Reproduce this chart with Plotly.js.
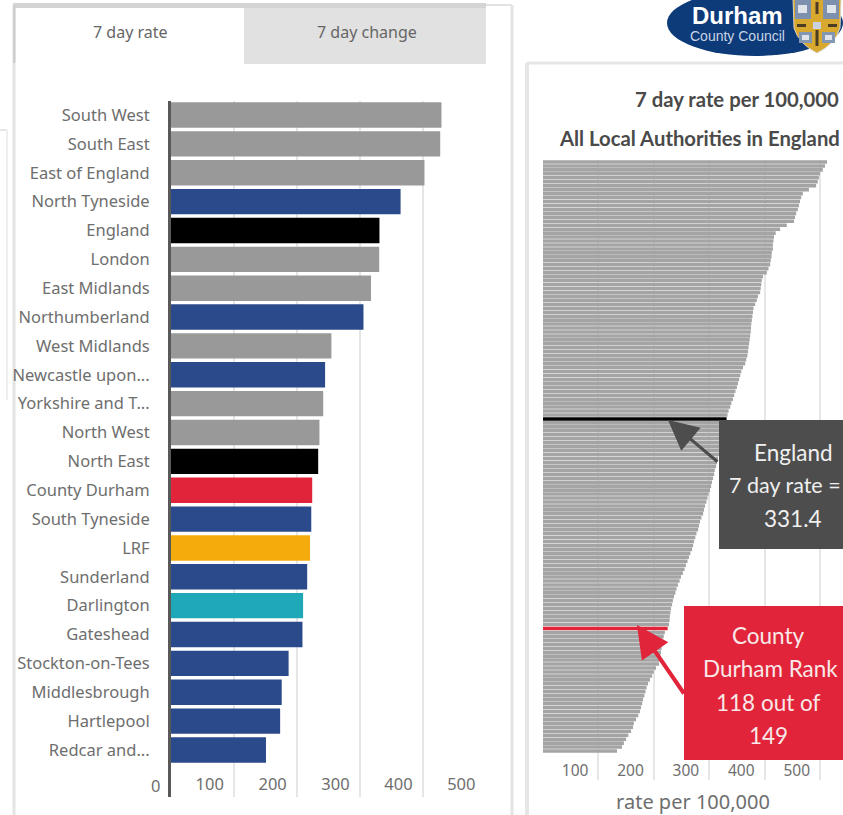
<!DOCTYPE html>
<html><head><meta charset="utf-8">
<script src="https://cdn.plot.ly/plotly-3.0.1.min.js"></script>
<style>html,body{margin:0;padding:0;background:#fff;overflow:hidden}</style>
</head><body><div id="chart" style="width:843px;height:815px"></div>
<script>
const areaNames = ["South West","South East","East of England","North Tyneside","England","London","East Midlands","Northumberland","West Midlands","Newcastle upon...","Yorkshire and T...","North West","North East","County Durham","South Tyneside","LRF","Sunderland","Darlington","Gateshead","Stockton-on-Tees","Middlesbrough","Hartlepool","Redcar and..."];
const areaRates = [430,428,403,365,331.4,331,318,306,255,245,242,236,234,224.5,223,221,216.5,210,209,187,176,173.5,151];
const areaColours = ["#999999","#999999","#999999","#2b4a8b","#000000","#999999","#999999","#2b4a8b","#999999","#2b4a8b","#999999","#999999","#000000","#e1243a","#2b4a8b","#f3ac0b","#2b4a8b","#1fa8b8","#2b4a8b","#2b4a8b","#2b4a8b","#2b4a8b","#2b4a8b"];
const authorityRates = [512.6,509,505,500,498,496,493,480,469,466,464,462,460,457,455,453,440,428,420,417,416,415,415,413,412.5,411,410,407,404,397,395,394,393,392,388,386,383,380,379,378,377,376,375.5,375,374,373,372,371,370,369,367,365,361,358,356,354,352,350,347.5,345,343,340,338,335,333,331.4,330,328.5,327,325,324,323,321.5,320,319,316,314,312.5,310,309,307,305,303.5,301.5,299,297,295,292.5,290.5,289,286,283.5,281.5,280,277,275,272.5,271,269,266,263.5,261,258,255.5,252.5,249,246.5,243.5,241,239,236.5,234.5,233,231,230,229,228.5,227.5,225,220,218,216.5,215,214,213,212,211,209.5,204,200,197,193,189.5,187,185,183,180.5,179,177,175,172,168,164,162.5,159,154,150,146,142.5,133.5];
const englandRow = 65, durhamRow = 118;
const rateTicks = [0,100,200,300,400,500];
const leftTickText = ["0","100","200","300","400","500"];
const rightTickText = ["","100","200","300","400","500"];

const W=843,H=815;
const px=x=>x/W, py=y=>1-y/H;
const rowFill = authorityRates.map((_,i)=> i===englandRow?"#000000": i===durhamRow?"#e1243a":"#a4a4a4");
const rowIndex = authorityRates.map((_,i)=>i);
const labelFont = '"Noto Sans", sans-serif';
const headFont = 'Lato, sans-serif';
const softText = '#6e6e6e';

function rect(x0,y0,x1,y1,fill,layer){return {type:'rect',xref:'paper',yref:'paper',x0:px(x0),x1:px(x1),y0:py(y0),y1:py(y1),fillcolor:fill,line:{width:0},layer:layer||'below'};}
function hline(x0,y0,x1,y1,c,w,layer){return {type:'line',xref:'paper',yref:'paper',x0:px(x0),x1:px(x1),y0:py(y0),y1:py(y1),line:{color:c,width:w},layer:layer||'below'};}
function note(x,y,text,size,color,anchor,family,bold){return {xref:'paper',yref:'paper',x:px(x),y:py(y),text:bold?'<b>'+text+'</b>':text,showarrow:false,xanchor:anchor||'center',yanchor:'middle',font:{size:size,color:color,family:family||labelFont}};}
function arrow(fromX,fromY,toX,toY,c,w,s){return {xref:'paper',yref:'paper',x:px(toX),y:py(toY),ax:fromX-toX,ay:fromY-toY,axref:'pixel',ayref:'pixel',text:'',showarrow:true,arrowhead:2,arrowsize:s,arrowwidth:w,arrowcolor:c};}

const shapes=[
  hline(0,130,7,130,'#e6e6e6',2), hline(7,130,7,400,'#eeeeee',2),
  hline(14,5,512,5,'#e2e2e2',2), hline(14,5,14,815,'#e4e4e4',3), hline(512,5,512,815,'#e4e4e4',3),
  rect(13,3,486,8,'#d4d4d4'), rect(13,5,15.5,63,'#cfcfcf'),
  rect(244,8,486,64,'#e1e1e1'),
  hline(527,63,843,63,'#e6e6e6',3), hline(527,63,527,815,'#e6e6e6',4),
  {type:'circle',xref:'paper',yref:'paper',x0:px(667),x1:px(843),y0:py(56),y1:py(-10),fillcolor:'#0d3a78',line:{width:0},layer:'below'},
  {type:'path',xref:'paper',yref:'paper',path:`M ${px(793)} ${py(-2)} L ${px(841)} ${py(-2)} L ${px(840)} ${py(28)} Q ${px(835)} ${py(44)} ${px(817)} ${py(53)} Q ${px(799)} ${py(44)} ${px(794)} ${py(28)} Z`,fillcolor:'#d8a92e',line:{color:'#d9d4c4',width:1},layer:'below'},
  rect(795,0,811,19,'#7d90ad'), rect(823,0,839,19,'#7d90ad'), rect(799,32,812,43,'#8497b2'), rect(822,32,835,43,'#8497b2'),
  rect(798,5,807,13,'#dfe4ea'), rect(827,5,836,13,'#dfe4ea'), rect(802,35,809,40,'#dfe4ea'), rect(825,35,832,40,'#dfe4ea'),
  rect(815.5,2,818.5,14,'#4a3d22'), rect(815.5,30,818.5,46,'#4a3d22'), rect(797,24,806,27,'#4a3d22'), rect(828,24,837,27,'#4a3d22'), rect(813,22,821,29,'#c9d3e0'),
  rect(719,420,843,549,'#4d4d4d','above'),
  rect(684,606,843,760,'#e1243a','above')
];

const annotations=[
  note(130,32,'7 day rate',16,'#666666'),
  note(367,32,'7 day change',16,'#666666'),
  note(690,15,'Durham',24,'#ffffff','left','"Liberation Sans"',true),
  note(688,36,'County Council',14,'#c9d5e6','left','"Liberation Sans"'),
  note(633,99,'7 day rate per 100,000',20.3,'#4a4a4a','left','Lato, sans-serif',true),
  note(557,138,'All Local Authorities in England',20.3,'#4a4a4a','left','Lato, sans-serif',true),
  note(155,785,leftTickText[0],16.5,softText),
  arrow(719,463,668,420,'#4d4d4d',3,2),
  arrow(685,695,637,625,'#e1243a',4,1.6),
  note(793,452,'England',22.5,'#f0f0f0','center',headFont),
  note(843,485,'7 day rate =',21.5,'#f0f0f0','right',headFont),
  note(793,518,'331.4',22.5,'#f0f0f0','center',headFont),
  note(768,635,'County',22.5,'#f8e8e8','center',headFont),
  note(770,668,'Durham Rank',22.5,'#f8e8e8','center',headFont),
  note(768,702,'118 out of',22.5,'#f8e8e8','center',headFont),
  note(768,735,'149',22.5,'#f8e8e8','center',headFont)
];

const traces=[
  {type:'bar',orientation:'h',x:areaRates,y:areaNames,marker:{color:areaColours,line:{width:0}},xaxis:'x',yaxis:'y',hoverinfo:'x+y',width:0.88},
  {type:'bar',orientation:'h',x:authorityRates,y:rowIndex,marker:{color:rowFill,line:{width:0}},xaxis:'x2',yaxis:'y2',hoverinfo:'x',width:0.9}
];

const tickFont={size:16.5,color:softText,family:labelFont};
const layout={
  width:W,height:H,margin:{l:0,r:0,t:0,b:0,pad:0},showlegend:false,paper_bgcolor:'#ffffff',plot_bgcolor:'rgba(0,0,0,0)',
  xaxis:{domain:[px(171),px(486)],range:[0,500.8],anchor:'y',tickmode:'array',tickvals:rateTicks,ticktext:leftTickText,ticklabelposition:'inside left',ticklabelshift:-10,ticklabelstandoff:-2,
    showgrid:true,gridcolor:'#e6e6e6',gridwidth:2,zeroline:false,showline:false,ticks:'',tickfont:tickFont},
  yaxis:{domain:[py(797),py(100.6)],type:'category',categoryorder:'array',categoryarray:areaNames,range:[23.63,-0.5],anchor:'x',showgrid:false,zeroline:false,showline:true,linecolor:'#595959',linewidth:3,
    ticks:'outside',ticklen:15,tickcolor:'rgba(0,0,0,0)',tickfont:tickFont,automargin:false},
  xaxis2:{domain:[px(543),1],range:[0,541.5],anchor:'y2',tickmode:'array',tickvals:rateTicks,ticktext:rightTickText,ticklabelposition:'inside left',ticklabelshift:-10,ticklabelstandoff:-5,
    showgrid:true,gridcolor:'#e6e6e6',gridwidth:2,zeroline:false,showline:false,ticks:'',tickfont:{size:15.5,color:softText,family:labelFont},
    title:{text:'rate per 100,000',font:{size:20,color:softText,family:labelFont},standoff:22}},
  yaxis2:{domain:[py(780),py(160)],range:[156.33,-0.5],anchor:'x2',showgrid:false,zeroline:false,showline:false,showticklabels:false,ticks:''},
  shapes:shapes,annotations:annotations,bargap:0.12
};
Plotly.newPlot('chart',traces,layout,{displayModeBar:false,staticPlot:true});
</script></body></html>
